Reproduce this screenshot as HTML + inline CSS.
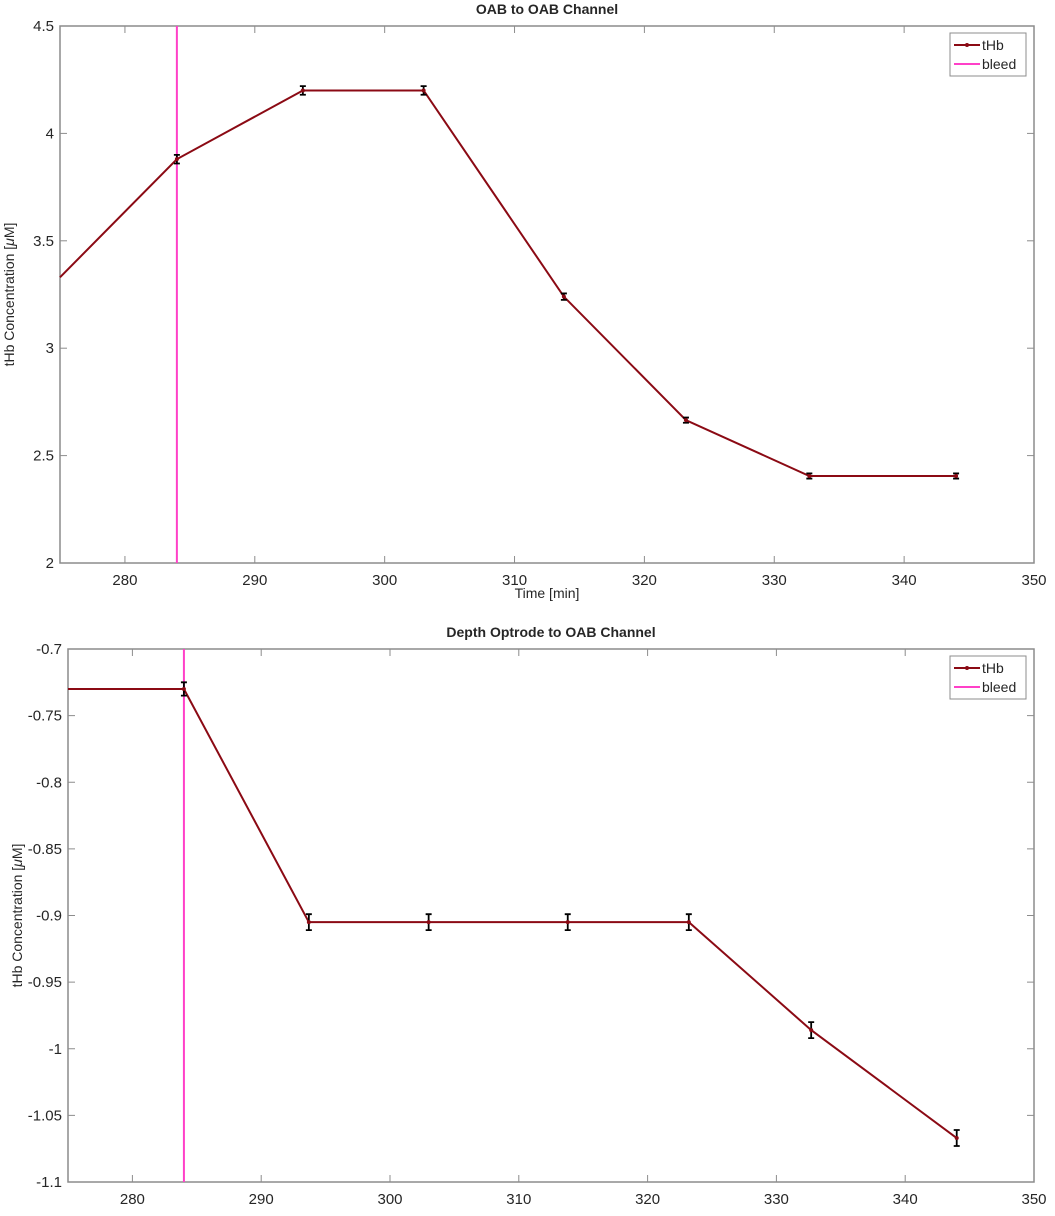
<!DOCTYPE html>
<html><head><meta charset="utf-8"><style>
body{margin:0;background:#fff;}
svg text{font-family:"Liberation Sans",Arial,sans-serif;fill:#262626;}
</style></head><body>
<svg id="chart" width="1055" height="1211" xmlns="http://www.w3.org/2000/svg"></svg>
<script>
const timesTop=[275,284,293.7,303,313.8,323.2,332.7,344];
const valuesTop=[3.33,3.88,4.2,4.2,3.24,2.665,2.405,2.405];
const errTop=[0,0.02,0.02,0.02,0.015,0.012,0.012,0.012];
const timesBot=[275,284,293.7,303,313.8,323.2,332.7,344];
const valuesBot=[-0.73,-0.73,-0.905,-0.905,-0.905,-0.905,-0.986,-1.067];
const errBot=[0,0.005,0.006,0.006,0.006,0.006,0.006,0.006];
const xTicks=[280,290,300,310,320,330,340,350];
const yTicksTop=[2,2.5,3,3.5,4,4.5];
const yTicksBot=[-1.1,-1.05,-1,-0.95,-0.9,-0.85,-0.8,-0.75,-0.7];
const yTickLabelsBot=["-1.1","-1.05","-1","-0.95","-0.9","-0.85","-0.8","-0.75","-0.7"];
const bleedTime=284;
const svg=document.getElementById('chart');
const NS='http://www.w3.org/2000/svg';
function mk(t,a,p){const e=document.createElementNS(NS,t);for(const k in a)e.setAttribute(k,a[k]);(p||svg).appendChild(e);return e;}
function panel(o){
  const g=mk('g',{});
  
  
  const X=v=>o.L+(v-275)/(350-275)*(o.R-o.L);
  const Y=v=>o.B-(v-o.ymin)/(o.ymax-o.ymin)*(o.B-o.T);
  mk('rect',{x:o.L,y:o.T,width:o.R-o.L,height:o.B-o.T,fill:'#fff',stroke:'#8c8c8c','stroke-width':1.5},g);
  xTicks.forEach(t=>{const x=X(t);
    mk('line',{x1:x,x2:x,y1:o.B,y2:o.B-7,stroke:'#8c8c8c'},g);
    mk('line',{x1:x,x2:x,y1:o.T,y2:o.T+7,stroke:'#8c8c8c'},g);
    const tx=mk('text',{x:x,y:o.B+22,'text-anchor':'middle','font-size':15},g);tx.textContent=t;
    
    });
  o.yt.forEach((t,i)=>{const y=Y(t);
    mk('line',{x1:o.L,x2:o.L+7,y1:y,y2:y,stroke:'#8c8c8c'},g);
    mk('line',{x1:o.R,x2:o.R-7,y1:y,y2:y,stroke:'#8c8c8c'},g);
    const tx=mk('text',{x:o.L-6,y:y+5,'text-anchor':'end','font-size':15},g);tx.textContent=o.ytl?o.ytl[i]:t;
    
    });
  const bx=X(bleedTime);
  const bl=mk('line',{x1:bx,x2:bx,y1:o.T,y2:o.B,stroke:'#ff40c8','stroke-width':2},g);
  
  
  const pts=o.t.map((t,i)=>X(t)+','+Y(o.v[i])).join(' ');
  const pl=mk('polyline',{points:pts,fill:'none',stroke:'#8b0a14','stroke-width':2},g);
  
  
  o.t.forEach((t,i)=>{if(i===0)return;const x=X(t),y1=Y(o.v[i]+o.e[i]),y2=Y(o.v[i]-o.e[i]);
    const eb=mk('path',{d:`M${x},${y1}V${y2}M${x-3},${y1}H${x+3}M${x-3},${y2}H${x+3}`,stroke:'#000','stroke-width':1.8,fill:'none'},g);
    
    
    mk('circle',{cx:x,cy:Y(o.v[i]),r:2,fill:'#8b0a14'},g);});
  const tt=mk('text',{x:(o.L+o.R)/2,y:o.T-12,'text-anchor':'middle','font-size':14,'font-weight':'bold',fill:'#000'},g);tt.textContent=o.title;
  
  
  const cy=(o.T+o.B)/2;
  const yl=mk('text',{x:0,y:0,'text-anchor':'middle','font-size':14,transform:`translate(${o.L-46},${cy}) rotate(-90)`},g);
  yl.innerHTML='tHb Concentration [<tspan font-style="italic">μ</tspan>M]';
  
  
  if(o.xlabel){const xl=mk('text',{x:(o.L+o.R)/2,y:o.B+35,'text-anchor':'middle','font-size':14},g);xl.textContent=o.xlabel;
    
    }
  const lg=mk('g',{},g);
  
  
  const lx=o.R-84,ly=o.T+7;
  mk('rect',{x:lx,y:ly,width:76,height:43,fill:'#fff',stroke:'#8c8c8c'},lg);
  mk('line',{x1:lx+4,x2:lx+30,y1:ly+12,y2:ly+12,stroke:'#8b0a14','stroke-width':2},lg);
  mk('circle',{cx:lx+17,cy:ly+12,r:2,fill:'#8b0a14'},lg);
  mk('line',{x1:lx+4,x2:lx+30,y1:ly+31,y2:ly+31,stroke:'#ff40c8','stroke-width':2},lg);
  const a=mk('text',{x:lx+32,y:ly+17,'font-size':14},lg);a.textContent='tHb';
  
  
  const b=mk('text',{x:lx+32,y:ly+36,'font-size':14},lg);b.textContent='bleed';
  
  
}
panel({name:'top-panel',L:60,R:1034,T:26,B:563,ymin:2,ymax:4.5,yt:yTicksTop,t:timesTop,v:valuesTop,e:errTop,title:'OAB to OAB Channel',xlabel:'Time [min]'});
panel({name:'bottom-panel',L:68,R:1034,T:649,B:1182,ymin:-1.1,ymax:-0.7,yt:yTicksBot,ytl:yTickLabelsBot,t:timesBot,v:valuesBot,e:errBot,title:'Depth Optrode to OAB Channel'});
</script>
</body></html>
